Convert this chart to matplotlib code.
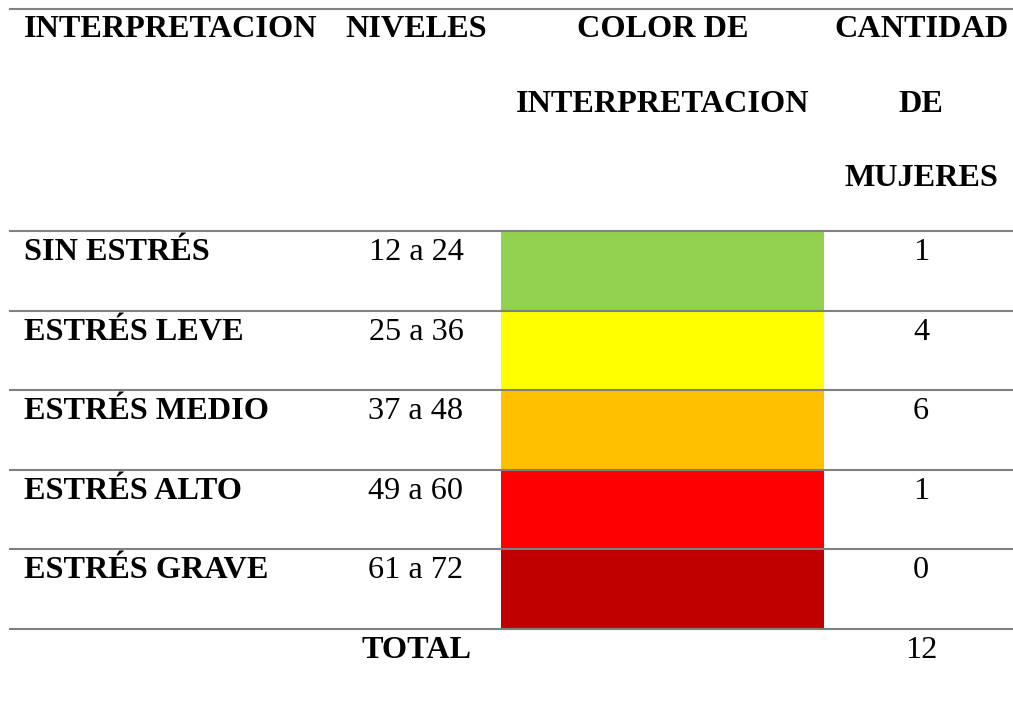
"""Tabla de niveles de estrés con color de interpretación y cantidad de mujeres."""
import matplotlib
matplotlib.use("Agg")
import matplotlib.pyplot as plt
from matplotlib.patches import Rectangle

# Datos de la tabla
niveles = ["SIN ESTRÉS", "ESTRÉS LEVE", "ESTRÉS MEDIO", "ESTRÉS ALTO", "ESTRÉS GRAVE"]
rangos = ["12 a 24", "25 a 36", "37 a 48", "49 a 60", "61 a 72"]
colores = ["#92D050", "#FFFF00", "#FFC000", "#FF0000", "#C00000"]
cantidad = [1, 4, 6, 1, 0]
total = 12

encabezados = [
    ["INTERPRETACION"],
    ["NIVELES"],
    ["COLOR DE", "INTERPRETACION"],
    ["CANTIDAD", "DE", "MUJERES"],
]

# Layout in pixel units (figure is 1013 x 704 px)
W, H = 1013, 704
LINE_X0 = 9
TOP_LINE = 9
HEAD_BASE = [37, 111.5, 185.5]
BODY_TOP = 231
ROW_H = 79.6
TEXT_OFF = 29
COL_X = [24, 416, 662.5, 921]
COLOR_X0, COLOR_X1 = 501, 824
FS = 23.2
GRAY = "#808080"

plt.rcParams["font.family"] = ["Liberation Serif", "DejaVu Serif"]

fig = plt.figure(figsize=(W / 100, H / 100), dpi=100)
ax = fig.add_axes([0, 0, 1, 1])
ax.set_xlim(0, W)
ax.set_ylim(H, 0)
ax.axis("off")

# header
for col, lines in enumerate(encabezados):
    for k, txt in enumerate(lines):
        ax.text(COL_X[col], HEAD_BASE[k], txt, fontsize=FS, fontweight="bold",
                ha="left" if col == 0 else "center", va="baseline")

# body rows
for i, (nivel, rango, color, n) in enumerate(zip(niveles, rangos, colores, cantidad)):
    top = BODY_TOP + i * ROW_H
    ax.add_patch(Rectangle((COLOR_X0, top), COLOR_X1 - COLOR_X0, ROW_H,
                           facecolor=color, edgecolor="none", zorder=1))
    base = top + TEXT_OFF
    ax.text(COL_X[0], base, nivel, fontsize=FS, fontweight="bold", ha="left", va="baseline")
    ax.text(COL_X[1], base, rango, fontsize=FS, ha="center", va="baseline")
    ax.text(COL_X[3], base, str(n), fontsize=FS, ha="center", va="baseline")

# total row
total_top = BODY_TOP + len(niveles) * ROW_H
ax.text(COL_X[1], total_top + TEXT_OFF, "TOTAL", fontsize=FS, fontweight="bold",
        ha="center", va="baseline")
ax.text(COL_X[3], total_top + TEXT_OFF, str(total), fontsize=FS, ha="center", va="baseline")

# horizontal rules
rules = [TOP_LINE] + [BODY_TOP + i * ROW_H for i in range(len(niveles) + 1)]
for y in rules:
    ax.plot([LINE_X0, W], [y, y], color=GRAY, lw=1.5, zorder=3, solid_capstyle="butt")

fig.savefig("out.png", dpi=100, facecolor="white")
